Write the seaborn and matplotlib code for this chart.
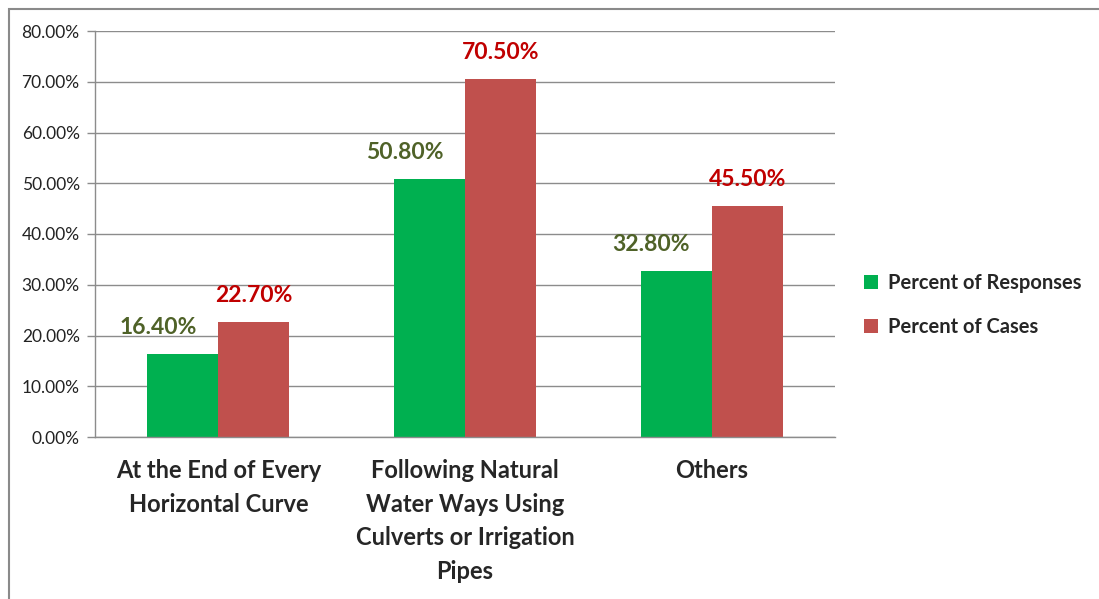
import pandas as pd
import seaborn as sns
import matplotlib.pyplot as plt
from matplotlib.patches import Rectangle

# Chart data
categories = ['At the End of Every\nHorizontal Curve',
              'Following Natural\nWater Ways Using\nCulverts or Irrigation\nPipes',
              'Others']
series = ['Percent of Responses', 'Percent of Cases']
responses = [16.4, 50.8, 32.8]
cases = [22.7, 70.5, 45.5]
y_ticks = [0, 10, 20, 30, 40, 50, 60, 70, 80]

colors = ['#00B050', '#C0504D']
label_colors = ['#4F6228', '#C00000']

# long format for seaborn
df = pd.DataFrame({
    'Category': categories * 2,
    'Series': [series[0]] * 3 + [series[1]] * 3,
    'Value': responses + cases,
})

sns.set_style('white')
plt.rcParams['font.family'] = ['Lato', 'DejaVu Sans']

fig = plt.figure(figsize=(10.99, 5.99), dpi=100)
ax = fig.add_axes([95 / 1099, 1 - 437 / 599, 740 / 1099, 406 / 599])

sns.barplot(data=df, x='Category', y='Value', hue='Series', order=categories,
            hue_order=series, palette=colors, width=0.575, saturation=1,
            edgecolor='none', ax=ax)

# value labels
for i, cont in enumerate(ax.containers):
    dx = -18 if i == 0 else 0
    for bar in cont:
        h = bar.get_height()
        ax.annotate(f'{h:.2f}%', (bar.get_x() + bar.get_width() / 2, h),
                    xytext=(dx, 19), textcoords='offset points',
                    ha='center', va='center', fontsize=16.5, fontweight='bold',
                    color=label_colors[i])

ax.set_ylim(0, 80)
ax.set_xlim(-0.5, 2.5)
ax.set_yticks(y_ticks)
ax.set_yticklabels([f'{v:.2f}%' for v in y_ticks], fontsize=12.5, color='#222222')
ax.yaxis.grid(True, color='#8c8c8c', linewidth=1)
ax.set_axisbelow(True)

ax.set_xticks(range(len(categories)))
ax.set_xticklabels(categories, fontsize=17, fontweight='bold', linespacing=1.55)
ax.set_xticks([-0.5, 0.5, 1.5, 2.5], minor=True)
ax.tick_params(axis='x', which='major', length=0, pad=16)
ax.tick_params(axis='x', which='minor', length=7, color='#8c8c8c', width=1)
ax.tick_params(axis='y', length=6, color='#8c8c8c', width=1, left=True, pad=5)

ax.set_xlabel('')
ax.set_ylabel('')
for s in ['top', 'right']:
    ax.spines[s].set_visible(False)
for s in ['left', 'bottom']:
    ax.spines[s].set_color('#8c8c8c')
    ax.spines[s].set_linewidth(1)

ax.legend(loc='center left', bbox_to_anchor=(1.015, 0.325), frameon=False,
          prop={'size': 14.5, 'weight': 'bold'}, handlelength=0.7,
          handleheight=0.7, handletextpad=0.5, labelspacing=1.15)

# chart frame
fig.patches.append(Rectangle((9 / 1099, -0.05), 1.1, 1 - 9 / 599 + 0.05,
                             transform=fig.transFigure, fill=False,
                             edgecolor='#8a8a8a', linewidth=1.5))

fig.savefig('out.png', dpi=100)
